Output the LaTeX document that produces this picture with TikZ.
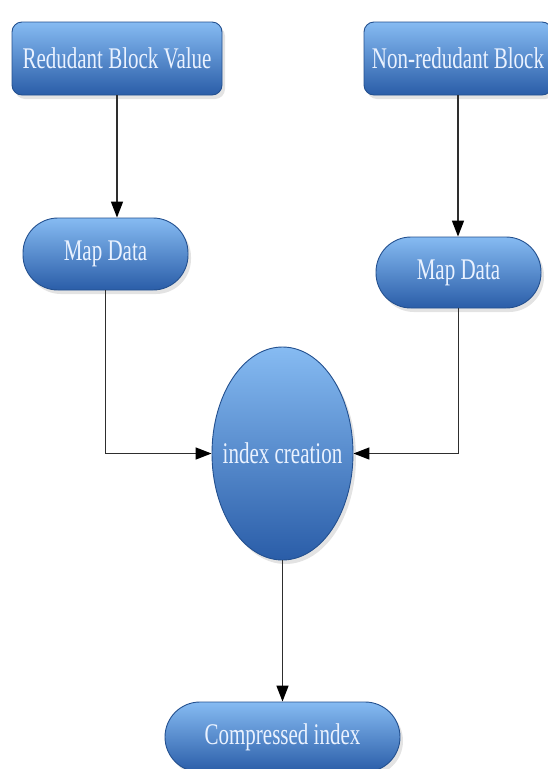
\documentclass[tikz,border=0pt]{standalone}
\usepackage{fontspec}
\newfontfamily\diafont{Liberation Serif}[FakeStretch=0.7]
\usetikzlibrary{shapes.geometric,shadows,arrows.meta,shadings}
\definecolor{boxtop}{HTML}{86BBF2}
\definecolor{boxmid}{HTML}{4C8BD8}
\definecolor{boxbot}{HTML}{2A5DA8}
\definecolor{boxline}{HTML}{23508F}
\definecolor{txt}{HTML}{EAF2FF}
\definecolor{linec}{HTML}{2E2E2E}
\tikzset{
  blob/.style={draw=boxline, line width=0.9pt, top color=boxtop, middle color=boxmid, bottom color=boxbot,
    text=txt, font=\diafont\fontsize{30}{32}\selectfont, inner sep=0pt, align=center,
    drop shadow={shadow xshift=3pt, shadow yshift=-4pt, opacity=0.22, fill=gray}},
  blockbox/.style={blob, rectangle, rounded corners=10pt},
  pill/.style={blob, rectangle, rounded corners=35pt},
  oval/.style={blob, ellipse},
  arr/.style={draw=linec, line width=1.5pt, -{Triangle[width=12pt,length=16pt,color=black]}}
}
\begin{document}
\begin{tikzpicture}[x=1pt,y=-1pt]
\useasboundingbox (0,0) rectangle (548,769);
\node[blockbox, minimum width=210pt, minimum height=73pt] (b1) at (117,58.5) {Redudant Block Value};
\node[blockbox, minimum width=188pt, minimum height=73pt] (b2) at (458,58.5) {Non-redudant Block};
\node[pill, minimum width=165pt, minimum height=72pt] (m1) at (105.5,254) {Map Data};
\node[pill, minimum width=165pt, minimum height=71pt] (m2) at (458.5,272.5) {Map Data};
\node[oval, minimum width=141pt, minimum height=213pt] (e) at (282.5,453.5) {\makebox[0pt]{index creation}};
\node[pill, minimum width=235pt, minimum height=70pt] (c) at (282.5,737) {Compressed index};
\draw[arr] (b1.south) -- (b1.south |- m1.north);
\draw[arr] (b2.south) -- (b2.south |- m2.north);
\draw[arr] (m1.south) |- (e.west);
\draw[arr] (m2.south) |- (e.east);
\draw[arr] (e.south) -- (c.north);
\end{tikzpicture}
\end{document}
